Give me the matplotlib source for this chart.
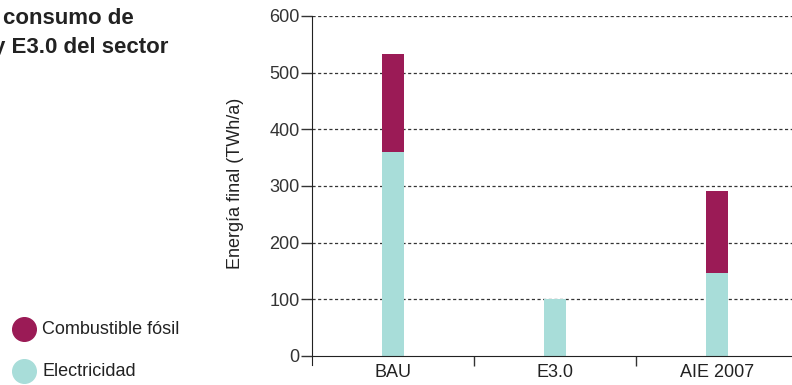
import matplotlib.pyplot as plt
from matplotlib.lines import Line2D

categories = ['BAU', 'E3.0', 'AIE 2007']
electricidad = [360, 100, 147]
fosil = [173, 0, 144]
series_labels = ['Combustible fósil', 'Electricidad']
colors = ['#9b1b56', '#a8ddd9']
yticks = [0, 100, 200, 300, 400, 500, 600]

plt.rcParams['font.family'] = ['Liberation Sans', 'DejaVu Sans']

W, H = 792, 385
fig = plt.figure(figsize=(W / 100, H / 100), dpi=100)
ax = fig.add_axes([312 / W, 1 - 365 / H, 486 / W, (365 - 16) / H])

x = list(range(len(categories)))
ax.bar(x, electricidad, width=0.136, color=colors[1], zorder=2)
ax.bar(x, fosil, width=0.136, bottom=electricidad, color=colors[0], zorder=2)

ax.set_xlim(-0.5, 2.5)
ax.set_ylim(-16, 600)
ax.set_yticks(yticks)
ax.set_yticklabels([str(v) for v in yticks])
for v in yticks[1:]:
    ax.axhline(v, color='#333333', lw=0.9, ls=(0, (2.5, 2)), zorder=1)

# category labels centred, tick marks between categories
ax.set_xticks(x)
ax.set_xticklabels(categories)
ax.tick_params(axis='x', which='major', length=0, pad=6, labelsize=13,
               labelcolor='#222222')
ax.set_xticks([0.5, 1.5, 2.5], minor=True)
ax.tick_params(axis='x', which='minor', length=7, width=1, color='#333333')
ax.tick_params(axis='y', length=8, width=1, color='#333333', pad=1,
               labelsize=13, labelcolor='#333333')

for s in ['top', 'right']:
    ax.spines[s].set_visible(False)
ax.spines['bottom'].set_position(('data', 0))
ax.spines['left'].set_color('#222222')
ax.spines['bottom'].set_color('#222222')

fig.text(236 / W, 1 - 183 / H, 'Energía final (TWh/a)', rotation=90,
         ha='center', va='center', fontsize=13, color='#222222')

# cut-off title
fig.text(3 / W, 1 - 18 / H, 'consumo de', fontsize=16, fontweight='bold',
         color='#222222', va='center')
fig.text(-7 / W, 1 - 47 / H, 'y E3.0 del sector', fontsize=16, fontweight='bold',
         color='#222222', va='center')

# legend
for i, (lab, col) in enumerate(zip(series_labels, colors)):
    yy = 1 - (329 + 42 * i) / H
    fig.add_artist(Line2D([24 / W], [yy], marker='o', markersize=17, color=col,
                          transform=fig.transFigure))
    fig.text(42 / W, yy, lab, fontsize=13, color='#222222', va='center')

fig.savefig('out.png', dpi=100)
